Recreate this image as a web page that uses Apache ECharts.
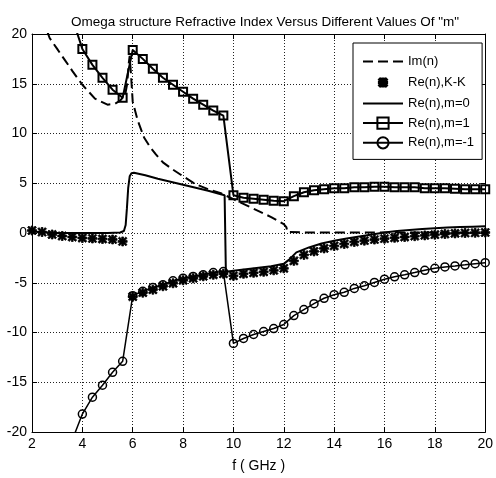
<!DOCTYPE html>
<html>
<head>
<meta charset="utf-8">
<script src="https://cdn.jsdelivr.net/npm/echarts@6/dist/echarts.min.js"></script>
<style>
html,body{margin:0;padding:0;background:#fff;}
#c{width:496px;height:478px;}
</style>
</head>
<body>
<div id="c"></div>
<script>
// ---- data ----
const titleText = 'Omega structure Refractive Index Versus Different Values Of "m"';
const xTicks = [2, 4, 6, 8, 10, 12, 14, 16, 18, 20];
const yTicks = [-20, -15, -10, -5, 0, 5, 10, 15, 20];

const imX = [2.6, 2.7, 3.0, 3.3, 3.6, 4.0, 4.5, 5.0, 5.3, 5.5, 5.7, 5.78, 5.84, 5.88, 5.93, 6.0, 6.2, 6.45, 6.7, 6.92, 7.2, 7.58, 8.0, 8.5, 9.0, 9.5, 10.0, 10.5, 11.0, 11.5, 12.0, 12.1, 12.15, 13.0, 14.0, 16.0, 18.0, 20.0];
const imY = [20.3, 19.6, 18.5, 17.4, 16.3, 14.9, 13.5, 12.9, 13.0, 13.3, 13.9, 15.0, 17.0, 17.8, 16.0, 13.2, 11.3, 9.6, 8.6, 7.9, 7.1, 6.4, 5.7, 4.9, 4.4, 4.0, 3.4, 2.8, 2.2, 1.6, 0.9, 0.6, 0.1, 0.05, 0.05, 0.05, 0.05, 0.05];

const kkX = [2.0, 2.4, 2.8, 3.2, 3.6, 4.0, 4.4, 4.8, 5.2, 5.6, 6.0, 6.4, 6.8, 7.2, 7.6, 8.0, 8.4, 8.8, 9.2, 9.6, 10.0, 10.4, 10.8, 11.2, 11.6, 12.0, 12.4, 12.8, 13.2, 13.6, 14.0, 14.4, 14.8, 15.2, 15.6, 16.0, 16.4, 16.8, 17.2, 17.6, 18.0, 18.4, 18.8, 19.2, 19.6, 20.0];
const kkY = [0.25, 0.1, -0.15, -0.3, -0.4, -0.5, -0.55, -0.6, -0.65, -0.85, -6.4, -6.0, -5.7, -5.35, -5.05, -4.75, -4.55, -4.35, -4.2, -4.1, -4.3, -4.1, -4.0, -3.9, -3.75, -3.55, -2.8, -2.2, -1.85, -1.55, -1.3, -1.1, -0.9, -0.77, -0.66, -0.57, -0.48, -0.4, -0.32, -0.24, -0.17, -0.1, -0.04, 0.0, 0.02, 0.05];

const m0X = [2.0, 2.5, 3.0, 4.0, 5.0, 5.5, 5.65, 5.72, 5.77, 5.82, 5.88, 5.95, 6.05, 6.5, 7.0, 7.5, 8.0, 8.5, 9.0, 9.5, 9.65, 9.7, 10.0, 10.5, 11.0, 11.5, 12.0, 12.2, 12.5, 13.0, 13.5, 14.0, 14.5, 15.0, 15.5, 16.0, 16.5, 17.0, 17.5, 18.0, 18.5, 19.0, 19.5, 20.0];
const m0Y = [0.15, 0.05, 0.0, 0.0, 0.0, 0.05, 0.2, 0.8, 2.5, 4.5, 5.7, 6.0, 6.05, 5.8, 5.45, 5.15, 4.85, 4.55, 4.25, 3.9, 3.8, -3.9, -3.8, -3.65, -3.5, -3.35, -3.1, -2.7, -1.95, -1.45, -1.05, -0.78, -0.55, -0.35, -0.15, 0.05, 0.2, 0.3, 0.4, 0.48, 0.55, 0.6, 0.64, 0.67];

const m1X = [3.6, 4.0, 4.4, 4.8, 5.2, 5.6, 6.0, 6.4, 6.8, 7.2, 7.6, 8.0, 8.4, 8.8, 9.2, 9.6, 10.0, 10.4, 10.8, 11.2, 11.6, 12.0, 12.4, 12.8, 13.2, 13.6, 14.0, 14.4, 14.8, 15.2, 15.6, 16.0, 16.4, 16.8, 17.2, 17.6, 18.0, 18.4, 18.8, 19.2, 19.6, 20.0];
const m1Y = [21.6, 18.5, 16.9, 15.6, 14.4, 13.6, 18.4, 17.5, 16.5, 15.6, 14.9, 14.2, 13.5, 12.9, 12.3, 11.8, 3.8, 3.55, 3.45, 3.35, 3.25, 3.2, 3.7, 4.1, 4.3, 4.4, 4.5, 4.5, 4.6, 4.6, 4.65, 4.65, 4.6, 4.6, 4.6, 4.5, 4.5, 4.5, 4.45, 4.4, 4.4, 4.4];

const mm1X = [3.6, 4.0, 4.4, 4.8, 5.2, 5.6, 6.0, 6.4, 6.8, 7.2, 7.6, 8.0, 8.4, 8.8, 9.2, 9.6, 10.0, 10.4, 10.8, 11.2, 11.6, 12.0, 12.4, 12.8, 13.2, 13.6, 14.0, 14.4, 14.8, 15.2, 15.6, 16.0, 16.4, 16.8, 17.2, 17.6, 18.0, 18.4, 18.8, 19.2, 19.6, 20.0];
const mm1Y = [-20.8, -18.2, -16.5, -15.3, -14.0, -12.9, -6.3, -5.86, -5.47, -5.2, -4.8, -4.54, -4.37, -4.2, -3.98, -3.88, -11.1, -10.6, -10.2, -9.9, -9.6, -9.2, -8.3, -7.7, -7.1, -6.56, -6.2, -5.96, -5.57, -5.3, -4.97, -4.64, -4.4, -4.2, -3.98, -3.75, -3.55, -3.41, -3.31, -3.2, -3.08, -2.98];

const seriesNames = ['Im(n)', 'Re(n),K-K', 'Re(n),m=0', 'Re(n),m=1', 'Re(n),m=-1'];
const xName = 'f ( GHz )';

// ---- build ----
function pairs(xs, ys) { return xs.map((x, i) => [x, ys[i]]); }
const starBody = 'M4,0H6V4H10V6H6V10H4V6H0V4H4Z M1.5,0.1L9.9,8.5L8.5,9.9L0.1,1.5Z M8.5,0.1L9.9,1.5L1.5,9.9L0.1,8.5Z';
const star = 'path://' + starBody;
const starLegend = 'path://M-3.5,-3.5L-3.5,-3.49Z M13.5,13.5L13.5,13.49Z ' + starBody;
const FONT = '"Liberation Sans", Arial, sans-serif';
const hiddenSym = {color: 'rgba(0,0,0,0)', borderWidth: 0, opacity: 0};

const chart = echarts.init(document.getElementById('c'), null, {renderer: 'canvas'});
const baseAxis = {
  axisLine: {show: true, onZero: false, lineStyle: {color: '#000', width: 1}},
  axisTick: {show: true, inside: true, length: 5, lineStyle: {color: '#000'}},
};
chart.setOption({
  animation: false,
  backgroundColor: '#fff',
  title: {
    text: titleText, left: 260, top: 10, textAlign: 'center',
    textStyle: {fontFamily: FONT, fontSize: 13.5, fontWeight: 'normal', color: '#000'}
  },
  grid: {left: 32, right: 8, top: 34, bottom: 41, show: false},
  legend: {
    data: [
      {name: seriesNames[0], itemStyle: hiddenSym},
      {name: seriesNames[1], icon: starLegend},
      {name: seriesNames[2], itemStyle: hiddenSym},
      {name: seriesNames[3]},
      {name: seriesNames[4]}
    ],
    orient: 'vertical', left: 353, top: 43,
    itemWidth: 40, itemHeight: 14, itemGap: 6.5,
    padding: [12, 8, 10, 9],
    backgroundColor: '#fff', borderColor: '#000', borderWidth: 1,
    textStyle: {fontFamily: FONT, fontSize: 13, color: '#000'}
  },
  xAxis: [
    Object.assign({}, baseAxis, {
      type: 'value', min: 2, max: 20, interval: 2, position: 'bottom',
      name: xName, nameLocation: 'middle', nameGap: 27,
      nameTextStyle: {fontFamily: FONT, fontSize: 14, color: '#000'},
      axisLabel: {fontFamily: FONT, fontSize: 14, color: '#000', margin: 5},
      splitLine: {show: true, lineStyle: {color: '#222', type: [1, 2], width: 1}}
    }),
    Object.assign({}, baseAxis, {
      type: 'value', min: 2, max: 20, interval: 2, position: 'top',
      axisLabel: {show: false}, splitLine: {show: false}
    })
  ],
  yAxis: [
    Object.assign({}, baseAxis, {
      type: 'value', min: -20, max: 20, interval: 5, position: 'left',
      axisLabel: {fontFamily: FONT, fontSize: 14, color: '#000', margin: 5},
      splitLine: {show: true, lineStyle: {color: '#222', type: [1, 2], width: 1}}
    }),
    Object.assign({}, baseAxis, {
      type: 'value', min: -20, max: 20, interval: 5, position: 'right',
      axisLabel: {show: false}, splitLine: {show: false}
    })
  ],
  series: [
    {
      name: seriesNames[0], type: 'line', data: pairs(imX, imY), symbol: 'none',
      clip: true, z: 3,
      itemStyle: {color: '#000'},
      lineStyle: {color: '#000', width: 2, type: [10, 5]}
    },
    {
      name: seriesNames[1], type: 'scatter', data: pairs(kkX, kkY),
      symbol: star, symbolSize: 9, clip: true, z: 4,
      itemStyle: {color: '#000', borderColor: '#000', borderWidth: 0.8, opacity: 1}
    },
    {
      name: seriesNames[2], type: 'line', data: pairs(m0X, m0Y), symbol: 'none',
      clip: true, z: 3,
      itemStyle: {color: '#000'},
      lineStyle: {color: '#000', width: 2}
    },
    {
      name: seriesNames[3], type: 'line', data: pairs(m1X, m1Y),
      symbol: 'rect', symbolSize: 8, showAllSymbol: true, clip: true, z: 5,
      itemStyle: {color: 'rgba(255,255,255,0)', borderColor: '#000', borderWidth: 2},
      lineStyle: {color: '#000', width: 2}
    },
    {
      name: seriesNames[4], type: 'line', data: pairs(mm1X, mm1Y),
      symbol: 'circle', symbolSize: 8, showAllSymbol: true, clip: true, z: 5,
      itemStyle: {color: 'rgba(255,255,255,0)', borderColor: '#000', borderWidth: 1.5},
      lineStyle: {color: '#000', width: 1.5}
    }
  ]
});
</script>
</body>
</html>
